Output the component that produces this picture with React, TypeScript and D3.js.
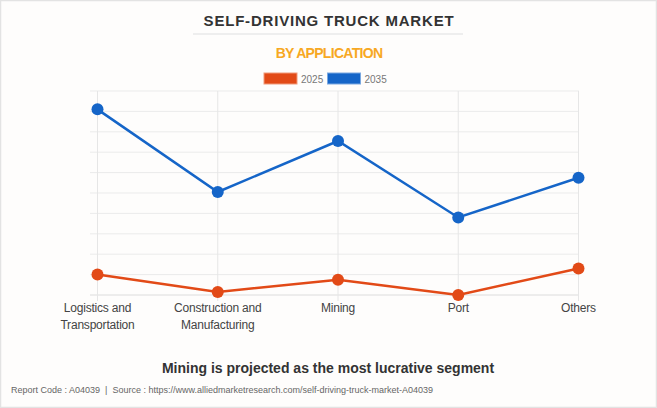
import React from "react";
import * as d3 from "d3";

const categories = ["Logistics and Transportation", "Construction and Manufacturing", "Mining", "Port", "Others"];
const categoryLines = [["Logistics and", "Transportation"], ["Construction and", "Manufacturing"], ["Mining"], ["Port"], ["Others"]];
const seriesNames = ["2025", "2035"];
const values2025 = [1.0, 0.15, 0.75, 0.0, 1.3];
const values2035 = [9.1, 5.05, 7.55, 3.8, 5.75];
const yTicks = [0, 1, 2, 3, 4, 5, 6, 7, 8, 9, 10];

const W = 657, H = 408;
const colors = ["#E24A17", "#1565C8"];

export default function App() {
  const x = d3.scalePoint<string>().domain(categories).range([97.5, 578.5]);
  const y = d3.scaleLinear().domain([0, 10]).range([295, 91]);
  const line = d3.line<number>().x((_, i) => x(categories[i])!).y((d) => y(d));
  const series = [values2025, values2035];
  const font = "'Liberation Sans', Arial, sans-serif";
  return (
    <svg width={W} height={H} style={{ position: "absolute", left: 0, top: 0 }} fontFamily={font}>
      <rect x={0.5} y={0.5} width={W - 1} height={H - 1} fill="#fefdfc" stroke="#e3e3e3" strokeWidth={1.5} />
      <text x={329} y={25.5} textAnchor="middle" fontSize={15} fontWeight="bold" fill="#333" letterSpacing={0.8}>SELF-DRIVING TRUCK MARKET</text>
      <line x1={193} x2={463} y1={34} y2={34} stroke="#eeeeee" strokeWidth={2} />
      <text x={329} y={58} textAnchor="middle" fontSize={14} fontWeight="bold" fill="#F7A823" letterSpacing={-0.7}>BY APPLICATION</text>
      {seriesNames.map((s, i) => (
        <g key={s} transform={`translate(${264 + i * 63.5},73)`}>
          <rect width={33} height={11} fill={colors[i]} stroke={i === 0 ? "#f09a7a" : "#7aa8e0"} strokeWidth={1} />
          <text x={37} y={9.5} fontSize={10} fill="#777">{s}</text>
        </g>
      ))}
      {yTicks.map((t) => (
        <line key={t} x1={90} x2={579} y1={y(t)} y2={y(t)} stroke={t === 0 ? "#dcdcdc" : "#ebebeb"} strokeWidth={1} />
      ))}
      {categories.map((c) => (
        <line key={c} x1={x(c)} x2={x(c)} y1={91} y2={301} stroke="#e6e6e6" strokeWidth={1} />
      ))}
      {series.map((vals, si) => (
        <g key={si}>
          <path d={line(vals)!} fill="none" stroke={colors[si]} strokeWidth={2.5} />
          {vals.map((v, i) => (
            <circle key={i} cx={x(categories[i])} cy={y(v)} r={6} fill={colors[si]} />
          ))}
        </g>
      ))}
      {categories.map((c, i) => (
        <text key={c} x={x(c)} y={312} textAnchor="middle" fontSize={12} fill="#444" letterSpacing={-0.2}>
          {categoryLines[i].map((l, k) => (
            <tspan key={k} x={x(c)} dy={k === 0 ? 0 : 17}>{l}</tspan>
          ))}
        </text>
      ))}
      <text x={328} y={373} textAnchor="middle" fontSize={14} fontWeight="bold" fill="#333">Mining is projected as the most lucrative segment</text>
      <text x={11} y={393} fontSize={9} fill="#666" style={{ whiteSpace: "pre" }}>{"Report Code : A04039  |  Source : https://www.alliedmarketresearch.com/self-driving-truck-market-A04039"}</text>
    </svg>
  );
}
